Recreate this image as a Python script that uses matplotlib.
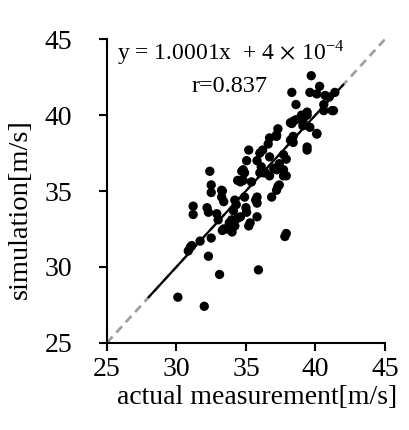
import matplotlib
matplotlib.use("Agg")
import matplotlib.pyplot as plt
import numpy as np

plt.rcParams['font.family'] = ['Liberation Serif', 'DejaVu Serif']
plt.rcParams['mathtext.fontset'] = 'stix'

# measured vs simulated wind speed [m/s]
actual = [
    30.1, 32.0, 33.1, 35.9, 32.3, 32.5, 31.0, 30.85, 31.1, 31.7, 33.3, 34.0,
    32.4, 32.5, 32.5, 33.3, 33.25, 31.2, 31.2, 32.2, 32.3, 32.9, 33.0, 34.2,
    34.3, 34.1, 33.97, 33.6, 33.4, 34.2, 34.6, 35.05, 35.3, 35.8, 34.9, 35.8,
    35.8, 36.85, 37.3, 37.9, 37.8, 34.6, 34.8, 35.4, 34.7, 36.0, 36.7, 37.7,
    37.2, 37.3, 35.2, 35.05, 34.8, 34.9, 34.4, 36.6, 36.7, 37.2, 36.0, 36.2,
    35.8, 36.7, 37.7, 37.9, 37.4, 37.0, 36.4, 38.2, 38.4, 39.4, 40.1, 38.3,
    38.6, 39.1, 39.4, 40.6, 41.3, 39.7, 38.3, 39.6, 40.3, 40.1, 40.7, 41.4,
    41.0, 38.6, 40.6, 41.2, 39.4, 39.0, 38.4, 38.2, 39.1, 39.6, 37.2, 38.4,
    40.1, 37.2, 37.4, 37.9, 37.7, 33.25, 33.4, 34.8, 34.7, 36.25, 36.1, 35.7,
    39.4, 35.2, 33.8, 34.0, 34.4, 35.0,
]
simulated = [
    28.0, 27.4, 29.5, 29.8, 30.7, 31.9, 31.3, 31.05, 31.4, 31.7, 32.4, 32.3,
    36.3, 35.4, 34.9, 35.0, 34.6, 34.0, 33.45, 33.9, 33.6, 33.5, 33.1, 34.4,
    34.1, 33.7, 33.1, 32.5, 32.5, 32.7, 33.3, 33.6, 32.9, 33.3, 34.6, 34.6,
    34.2, 34.6, 35.3, 32.2, 32.0, 35.6, 35.7, 35.6, 36.3, 36.2, 36.0, 36.0,
    36.4, 39.1, 37.7, 37.0, 36.4, 36.2, 35.7, 38.1, 38.5, 38.6, 37.5, 37.7,
    37.0, 37.25, 37.4, 37.1, 36.8, 36.5, 36.2, 38.35, 38.2, 37.9, 38.75, 39.45,
    39.7, 39.3, 40.0, 40.3, 40.3, 42.6, 41.5, 41.5, 41.9, 41.4, 41.3, 41.5,
    41.2, 40.7, 40.7, 40.3, 40.2, 40.0, 39.6, 39.5, 39.6, 39.2, 38.7, 38.6,
    38.8, 35.05, 35.4, 36.0, 36.4, 35.05, 34.3, 36.3, 35.7, 36.2, 36.6, 34.4,
    37.7, 32.7, 32.9, 32.9, 33.2, 33.9,
]
slope = 1.0001
intercept = 4e-4
fit_range = [28, 42]
ticks = [25, 30, 35, 40, 45]

fig = plt.figure(figsize=(4.09, 4.30), dpi=100)
ax = fig.add_axes([0.2616, 0.203, 0.6795, 0.7056])

ax.plot([25, 45], [25, 45], '--', color='#a0a0a0', lw=2, dashes=(3, 2), zorder=1)
ax.scatter(actual, simulated, s=45, color='black', edgecolors='none', zorder=2)
fx = np.array(fit_range)
ax.plot(fx, slope * fx + intercept, color='black', lw=1.6, zorder=3)

ax.set_xlim(25, 45)
ax.set_ylim(25, 45)
ax.set_xticks(ticks)
ax.set_yticks(ticks)
for side in ['top', 'right']:
    ax.spines[side].set_visible(False)
for side in ['left', 'bottom']:
    ax.spines[side].set_linewidth(1.5)
ax.tick_params(direction='out', length=6, width=1.5, labelsize=20)
ax.tick_params(axis='y', pad=19)
ax.tick_params(axis='x', pad=4)

ax.set_xlabel('actual measurement[m/s]', fontsize=20)
ax.set_ylabel('simulation[m/s]', fontsize=20.5)
ax.xaxis.set_label_coords(0.54, -0.14)
ax.yaxis.set_label_coords(-0.266, 0.44)

ax.text(0.035, 0.955, r'y = 1.0001x  + 4$\,\times\,$10$^{\mathregular{-4}}$',
        transform=ax.transAxes, fontsize=17, va='center', ha='left')
ax.text(0.44, 0.845, 'r=0.837', transform=ax.transAxes,
        fontsize=17.5, va='center', ha='center')

fig.savefig('out.png', dpi=100)
